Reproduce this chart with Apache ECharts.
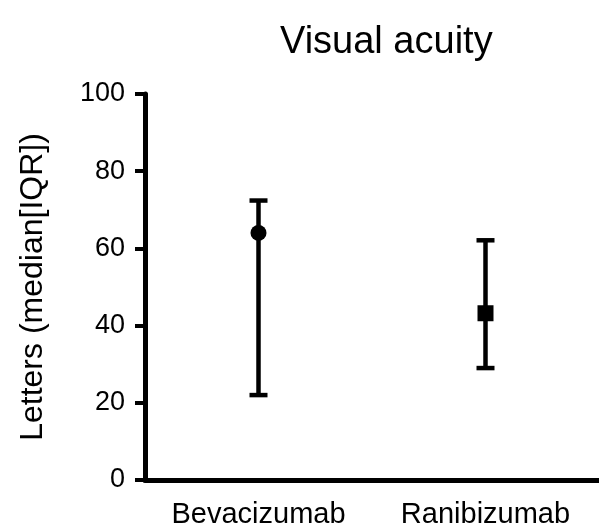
<!DOCTYPE html>
<html>
<head>
<meta charset="utf-8">
<script src="https://cdn.jsdelivr.net/npm/echarts@6/dist/echarts.min.js"></script>
<style>
  html, body { margin: 0; padding: 0; background: #fff; }
  #main { width: 599px; height: 529px; }
</style>
</head>
<body>
<div id="main"></div>
<script>
// data
var categories = ["Bevacizumab", "Ranibizumab"];
var medians = [64, 43.2];
var lowerIQR = [22, 29];
var upperIQR = [72.4, 62.1];
var markerShapes = ["circle", "rect"];
var yTicks = { min: 0, max: 100, step: 20 };

var font = "Liberation Sans, Arial, sans-serif";

var barData = [];
var pointData = [];
for (var i = 0; i < categories.length; i++) {
  barData.push([i, lowerIQR[i], upperIQR[i]]);
  pointData.push({ value: [i, medians[i]], symbol: markerShapes[i] });
}

var myChart = echarts.init(document.getElementById("main"));
myChart.setOption({
  animation: false,
  backgroundColor: "#fff",
  title: {
    text: "Visual acuity",
    left: 275,
    top: 19,
    textStyle: { fontFamily: font, fontSize: 38, fontWeight: "normal", color: "#000" }
  },
  grid: { left: 145, right: -4, top: 94, bottom: 49 },
  xAxis: {
    type: "category",
    data: categories,
    axisLine: { lineStyle: { color: "#000", width: 5 } },
    axisTick: { alignWithLabel: true, length: 12, lineStyle: { color: "#000", width: 4 } },
    axisLabel: { fontFamily: font, fontSize: 29, color: "#000", margin: 20 }
  },
  yAxis: {
    type: "value",
    min: yTicks.min,
    max: yTicks.max,
    interval: yTicks.step,
    name: "Letters (median[IQR])",
    nameLocation: "middle",
    nameGap: 96,
    nameTextStyle: { fontFamily: font, fontSize: 32, color: "#000" },
    splitLine: { show: false },
    axisLine: { show: true, lineStyle: { color: "#000", width: 5 } },
    axisTick: { show: true, length: 10, lineStyle: { color: "#000", width: 4 } },
    axisLabel: { fontFamily: font, fontSize: 27, color: "#000", margin: 20 }
  },
  series: [
    {
      type: "custom",
      data: barData,
      renderItem: function (params, api) {
        var lo = api.coord([api.value(0), api.value(1)]);
        var hi = api.coord([api.value(0), api.value(2)]);
        var half = 9;
        var style = { stroke: "#000", lineWidth: 4.5, fill: null };
        return {
          type: "group",
          children: [
            { type: "line", shape: { x1: lo[0], y1: lo[1], x2: hi[0], y2: hi[1] }, style: style },
            { type: "line", shape: { x1: hi[0] - half, y1: hi[1], x2: hi[0] + half, y2: hi[1] }, style: style },
            { type: "line", shape: { x1: lo[0] - half, y1: lo[1], x2: lo[0] + half, y2: lo[1] }, style: style }
          ]
        };
      },
      z: 2
    },
    {
      type: "scatter",
      data: pointData,
      symbolSize: 16,
      itemStyle: { color: "#000", opacity: 1 },
      z: 3
    }
  ]
});
</script>
</body>
</html>
